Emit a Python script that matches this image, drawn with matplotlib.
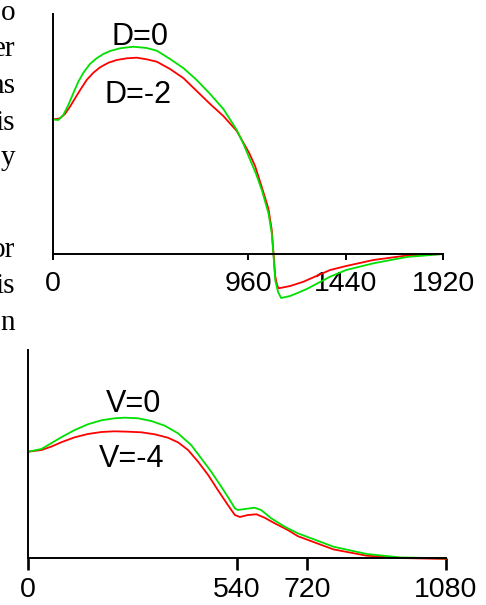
import matplotlib
matplotlib.use("Agg")
import matplotlib.pyplot as plt

plt.rcParams['font.family'] = ['Liberation Sans', 'DejaVu Sans']

# top panel: D sweep (x in samples, y in arbitrary units)
top_x_d0 = [0, 28, 52, 77, 101, 126, 151, 183, 216, 249, 282, 331, 396, 462, 512, 577, 642, 708, 774, 839,
            905, 938, 971, 1000, 1028, 1061, 1077, 1085, 1094, 1108, 1123, 1167, 1200, 1249, 1364, 1443,
            1577, 1741, 1920]
top_y_d0 = [134.5, 134, 139, 149, 160.7, 172.3, 181.3, 190, 195.7, 200, 203, 205.7, 207.3, 206, 203.3, 195,
            186, 174, 160, 145, 124, 110, 94, 80, 64, 40.7, 20.7, 0.7, -26, -38, -44, -42, -39.3, -35,
            -22.7, -16, -9.3, -3, 0]
top_x_dm2 = [0, 36, 60, 85, 110, 135, 167, 200, 233, 274, 315, 364, 413, 462, 512, 577, 642, 708, 774, 839,
             905, 966, 995, 1028, 1061, 1077, 1085, 1094, 1103, 1111, 1168, 1233, 1364, 1443, 1577, 1741, 1920]
top_y_dm2 = [134.5, 135.7, 140, 147.3, 155.7, 164, 174, 181.3, 186.7, 191.3, 194, 195.7, 196.3, 194.7, 192.3,
             185, 176, 163, 150, 138, 123, 101, 88, 67, 45, 24, 2, -22, -31, -34.3, -32, -27.7, -16, -12,
             -6, -1.5, 0]
top_ticks = [0, 960, 1440, 1920]

# bottom panel: V sweep
bot_x_v0 = [0, 34, 59, 85, 120, 154, 189, 223, 249, 284, 318, 353, 387, 421, 447, 473, 499, 521, 534, 542,
            560, 585, 602, 628, 663, 697, 789, 875, 961, 1080]
bot_y_v0 = [106, 108.7, 114.4, 120.4, 127.7, 133.4, 137.4, 139.4, 140, 139.4, 136.7, 132, 124.4, 112.7, 99.4,
            86, 71, 57.7, 49.4, 47.7, 48.7, 50, 47.7, 39.4, 31, 24.4, 11, 3.7, 0.3, -0.7]
bot_x_vm4 = [0, 34, 59, 85, 120, 154, 189, 223, 258, 292, 327, 361, 387, 413, 439, 465, 490, 516, 534, 547,
             568, 590, 611, 637, 671, 697, 789, 875, 961, 1080]
bot_y_vm4 = [106, 107.7, 111, 115.4, 120.4, 123.7, 125.7, 126.4, 126, 125.4, 123.4, 120, 115.4, 107.7, 96,
             82.7, 67.7, 52.7, 42.7, 40.7, 42.7, 43.4, 40, 34.4, 27.7, 21.5, 8.3, 2, -0.3, -1.3]
bot_ticks = [0, 540, 720, 1080]

# clipped words of the neighbouring page column
side_words = ['o', 'er', 'ns', 'is', 'y', 'or', 'is', 'n']
side_base = [20, 56, 93, 130, 165, 257, 293, 330]

GREEN = '#00e000'
RED = '#ff0000'
W, H = 486, 605
line_kw = dict(lw=1.3, clip_on=False, solid_joinstyle='round', solid_capstyle='round')

fig = plt.figure(figsize=(W / 100, H / 100), dpi=100)

ax1 = fig.add_axes([52.7 / W, 1 - 254 / H, 390.5 / W, 240 / H])
ax1.plot(top_x_dm2, top_y_dm2, color=RED, **line_kw)
ax1.plot(top_x_d0, top_y_d0, color=GREEN, **line_kw)
ax1.set_xlim(0, 1920)
ax1.set_ylim(0, 240)
ax1.set_xticks(top_ticks, [str(t) for t in top_ticks], fontsize=20.5)
ax1.tick_params(axis='x', length=4.3, width=1.4, pad=8)
ax1.set_yticks([])
ax1.text(429, 209, 'D=0', fontsize=22, ha='center', va='baseline')
ax1.text(420, 151, 'D=-2', fontsize=22, ha='center', va='baseline')

ax2 = fig.add_axes([28.3 / W, 1 - 557.7 / H, 417.7 / W, 207.7 / H])
ax2.plot(bot_x_vm4, bot_y_vm4, color=RED, **line_kw)
ax2.plot(bot_x_v0, bot_y_v0, color=GREEN, **line_kw)
ax2.set_xlim(0, 1080)
ax2.set_ylim(0, 207.7)
ax2.set_xticks(bot_ticks, [str(t) for t in bot_ticks], fontsize=20.5)
ax2.tick_params(axis='x', length=8.6, width=1.9, pad=5.5)
ax2.set_yticks([])
ax2.text(273, 145.7, 'V=0', fontsize=22, ha='center', va='baseline')
ax2.text(266, 90.7, 'V=-4', fontsize=22, ha='center', va='baseline')

for ax in (ax1, ax2):
    ax.spines['top'].set_visible(False)
    ax.spines['right'].set_visible(False)
    ax.spines['left'].set_linewidth(1.4)
    ax.spines['bottom'].set_linewidth(1.4)
    ax.patch.set_alpha(0)

for word, yb in zip(side_words, side_base):
    fig.text(15 / W, 1 - yb / H, word, fontsize=21, family='Liberation Serif',
             ha='right', va='baseline')

fig.savefig('out.png', dpi=100)
